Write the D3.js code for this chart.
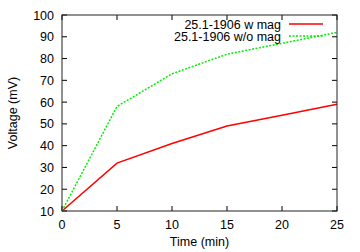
<!DOCTYPE html>
<html>
<head>
<meta charset="utf-8">
<script src="https://cdn.jsdelivr.net/npm/d3@7"></script>
<style>
  body { margin: 0; background: #fff; }
  text { font-family: "Liberation Sans", Arial, sans-serif; font-size: 12.5px; fill: #000; }
</style>
</head>
<body>
<div id="chart"><svg width="360" height="252"></svg></div>
<script>
const times = [0, 5, 10, 15, 20, 25];
const withMag = [10, 32, 41, 49, 54, 59];
const withoutMag = [10, 58, 73, 82, 87, 92];
const xTicks = [0, 5, 10, 15, 20, 25];
const yTicks = [10, 20, 30, 40, 50, 60, 70, 80, 90, 100];
const seriesNames = ["25.1-1906 w mag", "25.1-1906 w/o mag"];

const svg = d3.select("#chart svg");
const margin = {left: 62, right: 23, top: 15, bottom: 41};
const W = 360, H = 252;

const x = d3.scaleLinear().domain([0, 25]).range([margin.left, W - margin.right]);
const y = d3.scaleLinear().domain([10, 100]).range([H - margin.bottom, margin.top]);

// ticks on all four sides, pointing inward
const TICK = 5;
let g = svg.append("g").attr("class", "ticks").attr("stroke", "#000").attr("stroke-width", 1);
xTicks.forEach(t => {
  g.append("line").attr("x1", x(t)).attr("x2", x(t)).attr("y1", y(10)).attr("y2", y(10) - TICK);
  g.append("line").attr("x1", x(t)).attr("x2", x(t)).attr("y1", y(100)).attr("y2", y(100) + TICK);
});
yTicks.forEach(t => {
  g.append("line").attr("x1", x(0)).attr("x2", x(0) + TICK).attr("y1", y(t)).attr("y2", y(t));
  g.append("line").attr("x1", x(25)).attr("x2", x(25) - TICK).attr("y1", y(t)).attr("y2", y(t));
});

// tick labels
svg.append("g").selectAll("text").data(xTicks).join("text")
  .attr("x", d => x(d)).attr("y", 229).attr("text-anchor", "middle").text(d => d);
svg.append("g").selectAll("text").data(yTicks).join("text")
  .attr("x", 54).attr("y", d => y(d) + 4.5).attr("text-anchor", "end").text(d => d);

// axis titles
svg.append("text").attr("x", (x(0) + x(25)) / 2).attr("y", 246)
  .attr("text-anchor", "middle").text("Time (min)");
svg.append("text").attr("transform", `translate(16.5, ${(y(10) + y(100)) / 2}) rotate(-90)`)
  .attr("text-anchor", "middle").text("Voltage (mV)");

// data lines
const line = d3.line().x(d => x(d[0])).y(d => y(d[1]));
const styles = [
  {color: "#ff0000", dash: null},
  {color: "#00ee00", dash: "2,1.5"}
];
[withMag, withoutMag].forEach((vals, i) => {
  svg.append("path")
    .datum(times.map((t, j) => [t, vals[j]]))
    .attr("d", line)
    .attr("fill", "none")
    .attr("stroke", styles[i].color)
    .attr("stroke-width", 1.5)
    .attr("stroke-dasharray", styles[i].dash);
});

// legend
seriesNames.forEach((name, i) => {
  const ly = 24 + i * 12;
  svg.append("text").attr("x", 281).attr("y", ly + 4.5).attr("text-anchor", "end").text(name);
  svg.append("line").attr("x1", 289).attr("x2", 323).attr("y1", ly).attr("y2", ly)
    .attr("stroke", styles[i].color).attr("stroke-width", 1.5)
    .attr("stroke-dasharray", styles[i].dash);
});

// border
svg.append("rect")
  .attr("x", x(0)).attr("y", y(100))
  .attr("width", x(25) - x(0)).attr("height", y(10) - y(100))
  .attr("fill", "none").attr("stroke", "#222").attr("stroke-width", 1);
</script>
</body>
</html>
